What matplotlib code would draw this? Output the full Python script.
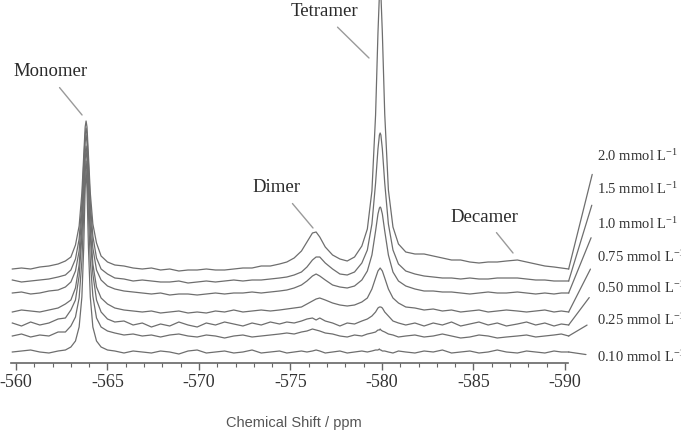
import numpy as np
import matplotlib.pyplot as plt

plt.rcParams['font.family'] = ['Liberation Serif', 'DejaVu Serif']
plt.rcParams['mathtext.fontset'] = 'stix'

# chemical shift grid (ppm), denser around the peaks
ppm = np.array([
    -559.8, -560.3, -560.8, -561.3, -561.8, -562.3, -562.7, -563.0, -563.25, -563.45,
    -563.6, -563.7, -563.78, -563.83, -563.88, -563.96, -564.06, -564.2, -564.4, -564.65,
    -565.0, -565.4, -565.9, -566.4, -566.9, -567.4, -567.9, -568.4, -568.9, -569.4,
    -569.9, -570.4, -570.9, -571.4, -571.9, -572.4, -572.9, -573.4, -573.9, -574.4,
    -574.8, -575.2, -575.6, -575.9, -576.2, -576.4, -576.6, -576.9, -577.3, -577.7,
    -578.1, -578.5, -578.9, -579.2, -579.45, -579.65, -579.78, -579.86, -579.9, -579.94,
    -580.02, -580.15, -580.35, -580.6, -580.9, -581.3, -581.8, -582.3, -582.8, -583.3,
    -583.8, -584.3, -584.8, -585.3, -585.8, -586.3, -586.8, -587.4, -587.9, -588.4,
    -588.9, -589.4, -589.8, -590.2])

conc_labels = ["2.0 mmol L$^{\\mathregular{-1}}$", "1.5 mmol L$^{\\mathregular{-1}}$",
               "1.0 mmol L$^{\\mathregular{-1}}$", "0.75 mmol L$^{\\mathregular{-1}}$",
               "0.50 mmol L$^{\\mathregular{-1}}$", "0.25 mmol L$^{\\mathregular{-1}}$",
               "0.10 mmol L$^{\\mathregular{-1}}$"]

# intensities (arbitrary units)
spec_2_0 = [0, 1, 0, 2, 3, 5, 8, 12, 24, 43,
            76, 113, 142, 148, 142, 113, 76, 45, 26, 13,
            7, 4, 3, 1, 0, 1, -1, 0, -2, -1,
            -1, 0, -1, -1, 0, 1, 1, 3, 3, 5,
            7, 11, 18, 27, 36, 37, 32, 22, 14, 10,
            8, 12, 23, 40, 78, 154, 236, 275, 281, 275,
            236, 155, 79, 42, 25, 17, 15, 15, 13, 11,
            9, 9, 7, 6, 7, 7, 8, 9, 7, 5,
            3, 2, 1, 0]
spec_1_5 = [1, -1, 0, 1, 2, 4, 6, 11, 22, 42,
            78, 117, 146, 153, 146, 117, 78, 45, 23, 12,
            7, 3, 2, 0, 1, 0, -1, -1, 0, -2,
            -1, 0, -1, 0, 1, 0, 1, 1, 2, 3,
            4, 6, 9, 14, 21, 24, 24, 18, 12, 7,
            6, 9, 18, 31, 57, 98, 132, 146, 148, 146,
            132, 98, 57, 31, 17, 10, 7, 5, 4, 3,
            3, 2, 3, 2, 2, 3, 3, 3, 2, 1,
            1, 0, 0, 0]
spec_1_0 = [0, 1, -1, 0, 2, 3, 6, 11, 22, 42,
            80, 121, 151, 158, 151, 121, 80, 45, 23, 13,
            7, 4, 2, 1, 0, -1, 0, -2, -1, -1,
            -2, -1, 0, -1, 0, 0, 1, 0, 1, 2,
            3, 5, 8, 12, 17, 19, 17, 13, 8, 6,
            5, 7, 13, 22, 38, 62, 79, 85, 86, 85,
            79, 62, 38, 21, 12, 7, 4, 2, 2, 1,
            1, 0, -1, 0, 1, 0, 0, 1, 0, -1,
            0, -1, 0, 0]
spec_0_75 = [-1, 1, 0, -1, 1, 3, 7, 11, 23, 46,
             84, 126, 158, 165, 158, 126, 84, 47, 24, 13,
             7, 3, 1, 0, -1, 0, -2, -1, 0, -2,
             -1, -2, 0, -1, 1, -1, 0, 1, 0, 1,
             2, 3, 4, 7, 10, 12, 13, 11, 8, 6,
             5, 6, 9, 13, 22, 33, 40, 42, 43, 42,
             40, 33, 22, 13, 8, 4, 3, 1, 2, 0,
             1, -1, 0, 1, -1, 0, 1, 0, -1, 0,
             1, -1, 0, -1]
spec_0_50 = [1, -2, 2, -1, 1, 5, 6, 14, 24, 48,
             88, 132, 165, 173, 165, 132, 88, 50, 24, 12,
             5, 2, 3, -1, 1, -3, 0, -2, 2, -1,
             -3, 1, -1, 2, 0, -2, 1, -1, 2, 0,
             2, 1, 3, 5, 6, 4, 6, 3, 1, -2,
             1, 0, 3, 5, 8, 12, 16, 17, 17, 17,
             16, 12, 8, 3, 1, -1, 1, -2, 1, -1,
             2, -2, 0, 2, -1, 1, -2, 0, 2, -1,
             1, -2, 0, -1]
spec_0_25 = [0, 2, -1, 1, 0, 4, 4, 10, 19, 38,
             75, 122, 164, 175, 164, 122, 75, 40, 18, 9,
             5, 3, 1, 2, 0, 1, -1, 1, 2, 0,
             -1, 1, 0, -2, 0, 1, -1, 0, 1, 2,
             3, 2, 4, 5, 7, 6, 5, 3, 2, 0,
             -1, 1, 0, 2, 3, 4, 6, 6, 7, 6,
             5, 4, 2, 1, -1, 0, 1, -1, 0, 2,
             0, -2, -1, 1, 0, -2, -1, 0, 1, -1,
             0, 1, 2, 0]
spec_0_10 = [0, 1, 2, 0, -1, 1, 2, 5, 11, 25,
             55, 104, 164, 182, 164, 104, 55, 25, 11, 5,
             2, 1, -1, 1, 0, -1, 1, 0, -2, 1,
             2, -1, 0, 1, -1, 0, 2, -1, 0, 1,
             -1, 0, 1, 0, 1, 2, 1, -1, 0, 1,
             -1, 0, 1, 0, 1, 2, 2, 3, 2, 2,
             1, 1, 0, -1, 1, 0, -1, 1, 0, 2,
             -1, 0, 1, -1, 0, 2, 0, -1, 1, 0,
             -1, 1, 0, 0]

spectra = [spec_2_0, spec_1_5, spec_1_0, spec_0_75, spec_0_50, spec_0_25, spec_0_10]

# vertical stacking offsets and label heights
offsets = [163, 151, 139, 121, 108, 96, 80]
label_y = [276, 243, 208, 175, 144, 112, 75]

species = ["Monomer", "Dimer", "Tetramer", "Decamer"]
species_text = [(-561.86, 360), (-574.26, 244), (-576.83, 420), (-585.57, 215)]
species_tip = [(-563.61, 317), (-576.23, 204), (-579.29, 374), (-587.16, 179)]
species_rel = [(0.55, 0), (0.7, 0), (0.6, 0), (0.6, 0)]

major_ticks = [-560, -565, -570, -575, -580, -585, -590]
tick_labels = ["-560", "-565", "-570", "-575", "-580", "-585", "-590"]

line_col = '#6e6e6e'
lead_col = '#9a9a9a'

fig = plt.figure(figsize=(6.81, 4.32), dpi=100)
ax = fig.add_axes([0, 0, 1, 1])
ax.set_xlim(-559.126, -596.34)
ax.set_ylim(0, 432)

for off, spec in zip(offsets, spectra):
    ax.plot(ppm, off + np.array(spec), color=line_col, lw=0.9)

# concentration labels with leader lines
for off, spec, lab, ly in zip(offsets, spectra, conc_labels, label_y):
    ax.annotate(lab, xy=(ppm[-1], off + spec[-1]), xytext=(-591.75, ly),
                ha='left', va='center', fontsize=10.5, color='#333333',
                annotation_clip=False,
                arrowprops=dict(arrowstyle='-', color=line_col, lw=0.9,
                                shrinkA=6, shrinkB=0, relpos=(0, 0.55)))

# species labels
for name, txt, tip, rel in zip(species, species_text, species_tip, species_rel):
    ax.annotate(name, xy=tip, xytext=txt, ha='center', va='center',
                fontsize=13.5, color='#2a2a2a',
                arrowprops=dict(arrowstyle='-', color=lead_col, lw=1.0,
                                shrinkA=4, shrinkB=0, relpos=rel))

for s in ['left', 'right', 'top']:
    ax.spines[s].set_visible(False)
ax.spines['bottom'].set_position(('data', 69))
ax.spines['bottom'].set_bounds(-559.75, -590.15)
ax.spines['bottom'].set_color('#666666')
ax.spines['bottom'].set_linewidth(1.2)
ax.set_yticks([])
ax.set_xticks(major_ticks)
ax.set_xticklabels(tick_labels)
ax.set_xticks(np.arange(-560, -591, -1), minor=True)
ax.tick_params(axis='x', which='major', length=5, width=1, color='#666666',
               direction='out', pad=3, labelsize=13, labelcolor='#333333')
ax.tick_params(axis='x', which='minor', length=3, width=0.8, color='#666666',
               direction='out')

fig.text(294 / 681, 1 - 423 / 432, "Chemical Shift / ppm", ha='center', va='center',
         fontsize=10.5, color='#555555', family='Liberation Sans')

fig.savefig('out.png', dpi=100)
